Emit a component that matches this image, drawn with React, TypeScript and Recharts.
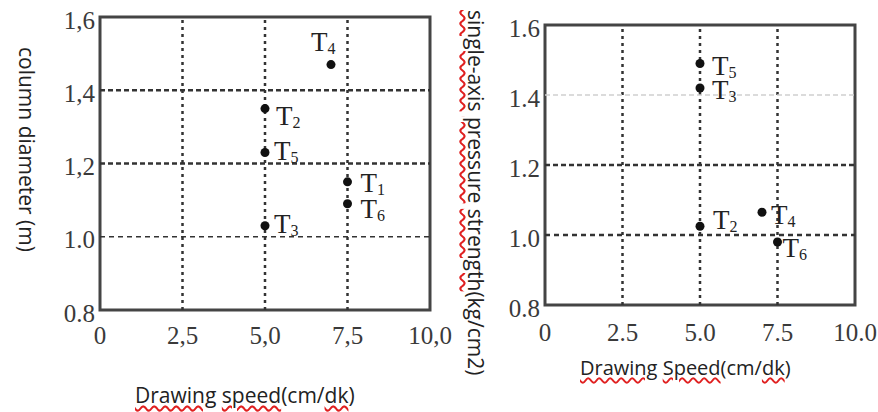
import { ScatterChart, Scatter, XAxis, YAxis, ReferenceLine, ReferenceArea } from "recharts";

// x axis: drawing speed (cm/dk)
const speedTicks = [0, 2.5, 5, 7.5, 10];
const leftSpeedLabels = ["0", "2,5", "5,0", "7,5", "10,0"];
const rightSpeedLabels = ["0", "2.5", "5.0", "7.5", "10.0"];

// y axis ticks
const yTicks = [0.8, 1.0, 1.2, 1.4, 1.6];
const leftYLabels = ["0.8", "1.0", "1,2", "1,4", "1,6"];
const rightYLabels = ["0.8", "1.0", "1.2", "1.4", "1.6"];

// left: column diameter (m)
const diameterNames = ["T1", "T2", "T3", "T4", "T5", "T6"];
const diameterSpeed = [7.5, 5, 5, 7, 5, 7.5];
const diameterValue = [1.15, 1.35, 1.03, 1.47, 1.23, 1.09];

// right: single-axis pressure strength (kg/cm2)
const strengthNames = ["T2", "T3", "T4", "T5", "T6"];
const strengthSpeed = [5, 5, 7, 5, 7.5];
const strengthValue = [1.025, 1.42, 1.065, 1.49, 0.98];

// label offsets from the point (dx, dy to baseline)
const diameterLabelPos: Record<string, [number, number]> = {
  T1: [13, 10], T2: [11, 16], T3: [9, 7], T4: [-20, -14], T5: [9, 7], T6: [13, 14],
};
const strengthLabelPos: Record<string, [number, number]> = {
  T2: [13, 3], T3: [12, 11], T4: [9, 12], T5: [12, 11], T6: [5, 15],
};

const serif = "'Liberation Serif', 'DejaVu Serif', serif";
const sans = "'Open Sans', 'Noto Sans', sans-serif";

const diameterData = diameterNames.map((n, i) => ({ n, x: diameterSpeed[i], y: diameterValue[i] }));
const strengthData = strengthNames.map((n, i) => ({ n, x: strengthSpeed[i], y: strengthValue[i] }));

function PointMark(props: any) {
  const { cx, cy, payload, pos } = props;
  const [dx, dy] = pos[payload.n] || [10, 8];
  return (
    <g>
      <circle cx={cx} cy={cy} r={4.5} fill="#111" />
      <text x={cx + dx} y={cy + dy} fontFamily={serif} fontSize={27} fill="#222">
        T<tspan fontSize={16} dy={3}>{payload.n.slice(1)}</tspan>
      </text>
    </g>
  );
}

function XTick(props: any) {
  const { x, y, payload, labels, off } = props;
  const i = speedTicks.indexOf(payload.value);
  return (
    <text x={x} y={y + off} textAnchor="middle" dominantBaseline="central" fontFamily={serif} fontSize={25} fill="#3a3a3a">
      {labels[i]}
    </text>
  );
}

function YTick(props: any) {
  const { x, y, payload, labels } = props;
  const i = yTicks.findIndex((t) => Math.abs(t - payload.value) < 1e-6);
  return (
    <text x={x - 5} y={y + 3} textAnchor="end" dominantBaseline="central" fontFamily={serif} fontSize={25} fill="#3a3a3a">
      {labels[i]}
    </text>
  );
}

const wavy = {
  textDecorationLine: "underline",
  textDecorationStyle: "wavy" as const,
  textDecorationColor: "#e02020",
  textUnderlineOffset: 2,
};

function Panel({ data, pos, xLabels, yLabels, margin, width, xOff, light14 }: any) {
  return (
    <ScatterChart width={width} height={412} margin={margin}>
      <XAxis
        type="number" dataKey="x" domain={[0, 10]} ticks={speedTicks}
        axisLine={false} tickLine={false} tickSize={0} tickMargin={0} height={40}
        tick={(p: any) => <XTick {...p} labels={xLabels} off={xOff} />}
        interval={0}
      />
      <YAxis
        type="number" dataKey="y" domain={[0.8, 1.6]} ticks={yTicks}
        axisLine={false} tickLine={false} tickSize={0} tickMargin={0} width={60}
        tick={(p: any) => <YTick {...p} labels={yLabels} />}
        interval={0}
      />
      {[2.5, 5, 7.5].map((v) => (
        <ReferenceLine key={"v" + v} x={v} stroke="#333" strokeWidth={2.5} strokeDasharray="3 4" />
      ))}
      <ReferenceLine y={1.4} stroke={light14 ? "#d0d0d0" : "#333"} strokeWidth={light14 ? 1.5 : 2.5} strokeDasharray="5 3" />
      <ReferenceLine y={1.2} stroke="#333" strokeWidth={2.5} strokeDasharray="5 3" />
      <ReferenceLine y={1.0} stroke="#333" strokeWidth={light14 ? 2.5 : 1.6} strokeDasharray="5 4" />
      <ReferenceArea x1={0} x2={10} y1={0.8} y2={1.6} fill="none" stroke="#444" strokeWidth={3} />
      <Scatter data={data} isAnimationActive={false} shape={(p: any) => <PointMark {...p} pos={pos} />} />
    </ScatterChart>
  );
}

export default function App() {
  return (
    <div style={{ position: "absolute", left: 0, top: 0, width: 878, height: 412, background: "#fff", overflow: "hidden" }}>
      <div style={{ position: "absolute", left: 0, top: 0 }}>
        <Panel
          data={diameterData} pos={diameterLabelPos} xLabels={leftSpeedLabels} yLabels={leftYLabels}
          width={470} margin={{ top: 17, right: 40, bottom: 62, left: 40 }} xOff={25} light14={false}
        />
      </div>
      <div style={{ position: "absolute", left: 440, top: 0 }}>
        <Panel
          data={strengthData} pos={strengthLabelPos} xLabels={rightSpeedLabels} yLabels={rightYLabels}
          width={438} margin={{ top: 25, right: 23, bottom: 67, left: 45 }} xOff={27} light14={true}
        />
      </div>

      {/* axis titles */}
      <div style={{ position: "absolute", left: 37, top: 47, transformOrigin: "left top", transform: "rotate(90deg)", whiteSpace: "nowrap", fontFamily: sans, fontSize: 21, lineHeight: "21px", color: "#222" }}>
        column diameter (m)
      </div>
      <div style={{ position: "absolute", left: 135, top: 382, whiteSpace: "nowrap", fontFamily: sans, fontSize: 21, lineHeight: "26px", color: "#222" }}>
        <span style={wavy}>Drawing</span> <span style={wavy}>speed</span>(cm/<span style={wavy}>dk</span>)
      </div>
      <div style={{ position: "absolute", left: 488, top: 10, transformOrigin: "left top", transform: "rotate(90deg)", whiteSpace: "nowrap", fontFamily: sans, fontSize: 21, lineHeight: "24px", color: "#222" }}>
        <span style={wavy}>single-axis</span> <span style={wavy}>pressure</span> <span style={wavy}>strength</span>(kg/cm2)
      </div>
      <div style={{ position: "absolute", left: 580, top: 355, whiteSpace: "nowrap", fontFamily: sans, fontSize: 20, lineHeight: "26px", color: "#222" }}>
        <span style={wavy}>Drawing</span> <span style={wavy}>Speed</span>(cm/<span style={wavy}>dk</span>)
      </div>
    </div>
  );
}
